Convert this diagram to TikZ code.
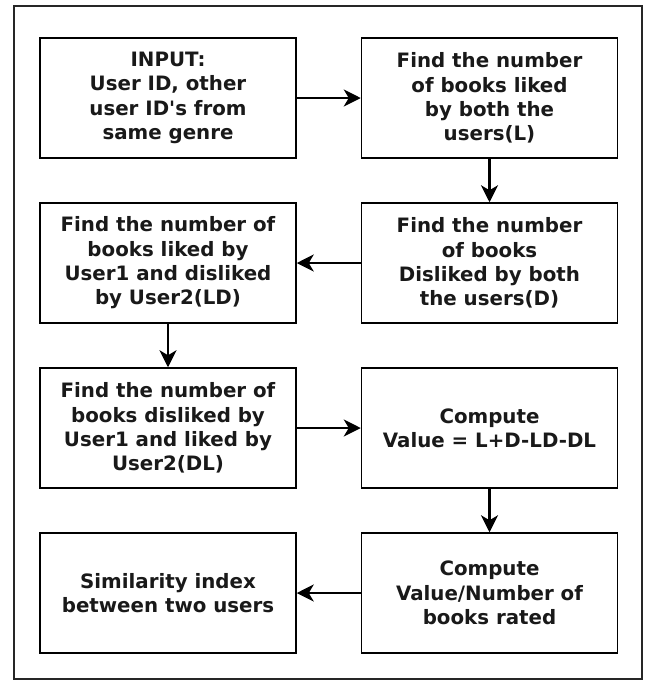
\documentclass[tikz,border=0pt]{standalone}
\usepackage{fontspec}
\setmainfont{DejaVu Sans}
\usetikzlibrary{arrows.meta}
\begin{document}
\begin{tikzpicture}[x=1pt,y=-1pt,
  stepbox/.style={draw=black, line width=1.5pt, fill=white, rectangle,
    minimum width=256pt, minimum height=120pt, inner sep=0pt,
    align=center, font=\fontsize{19.8}{24.4}\selectfont\bfseries, text=black!90},
  flow/.style={line width=2.2pt, -{Stealth[length=17pt,width=17pt,inset=5pt]}}]
  \useasboundingbox (0,0) rectangle (647,681);
  \fill[white] (0,0) rectangle (647,681);
  % outer frame
  \draw[line width=1.5pt, black!85] (14,6) rectangle (642,679);

  % left column x = 168, right column x = 489.5; rows every 165
  \node[stepbox] (input) at (168,98) {INPUT:\\User ID, other\\user ID\textquotesingle s from\\same genre};
  \node[stepbox] (liked) at (489.5,98) {Find the number\\of books liked\\by both the\\users(L)};
  \node[stepbox] (disliked) at (489.5,263) {Find the number\\of books\\Disliked by both\\the users(D)};
  \node[stepbox] (ld) at (168,263) {Find the number of\\books liked by\\User1 and disliked\\by User2(LD)};
  \node[stepbox] (dl) at (168,428) {Find the number of\\books disliked by\\User1 and liked by\\User2(DL)};
  \node[stepbox] (value) at (489.5,428) {Compute\\Value = L+D-LD-DL};
  \node[stepbox] (ratio) at (489.5,593) {Compute\\Value/Number of\\books rated};
  \node[stepbox] (index) at (168,593) {Similarity index\\between two users};

  \draw[flow] (input) -- (liked);
  \draw[flow] (liked) -- (disliked);
  \draw[flow] (disliked) -- (ld);
  \draw[flow] (ld) -- (dl);
  \draw[flow] (dl) -- (value);
  \draw[flow] (value) -- (ratio);
  \draw[flow] (ratio) -- (index);
\end{tikzpicture}
\end{document}
